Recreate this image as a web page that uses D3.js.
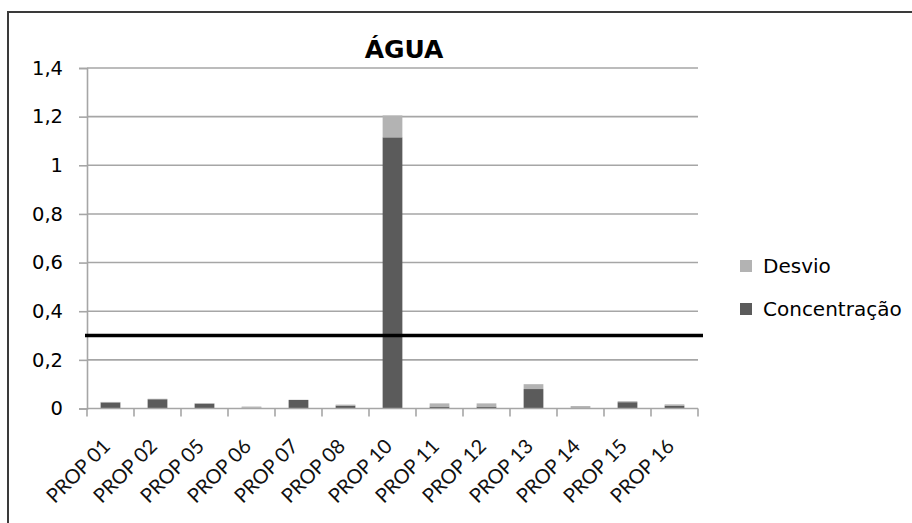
<!DOCTYPE html>
<html>
<head>
<meta charset="utf-8">
<script src="https://cdn.jsdelivr.net/npm/d3@7"></script>
<style>
  html, body { margin: 0; padding: 0; background: #fff; }
  svg { display: block; }
</style>
</head>
<body>
<svg id="chart" width="912" height="523"></svg>
<script>
// Water sample results per property: measured concentration plus its deviation stacked on top
const categories = ["PROP 01", "PROP 02", "PROP 05", "PROP 06", "PROP 07", "PROP 08", "PROP 10",
                    "PROP 11", "PROP 12", "PROP 13", "PROP 14", "PROP 15", "PROP 16"];
const concentracao = [0.025, 0.038, 0.02, 0.003, 0.035, 0.012, 1.115, 0.008, 0.008, 0.08, 0.002, 0.026, 0.012];
const desvio       = [0.002, 0.002, 0.002, 0.005, 0.001, 0.004, 0.09, 0.013, 0.013, 0.02, 0.008, 0.004, 0.005];
const yTicks = [0, 0.2, 0.4, 0.6, 0.8, 1, 1.2, 1.4];
const limite = 0.3;
const seriesNames = ["Desvio", "Concentração"];

const colors = { "Concentração": "#5b5b5b", "Desvio": "#b3b3b3" };
const svg = d3.select("#chart");

// outer frame
svg.append("rect").attr("x", 8).attr("y", 12).attr("width", 920).attr("height", 530)
  .attr("fill", "#fff").attr("stroke", "#3a3a3a").attr("stroke-width", 2);

const plot = { left: 87, right: 698, top: 68, bottom: 408.5 };

const x = d3.scaleBand().domain(categories).range([plot.left, plot.right]).paddingInner(0.58).paddingOuter(0.29);
const xTick = d3.scaleBand().domain(categories).range([plot.left, plot.right]);
const y = d3.scaleLinear().domain([0, 1.4]).range([plot.bottom, plot.top]);

const textFont = "'DejaVu Sans', Verdana, sans-serif";

// horizontal gridlines
svg.append("g").selectAll("line").data(yTicks.filter(d => d > 0)).join("line")
  .attr("x1", plot.left).attr("x2", plot.right)
  .attr("y1", d => y(d)).attr("y2", d => y(d))
  .attr("stroke", "#a6a6a6").attr("stroke-width", 1.6);

// stacked bars
const rows = categories.map((c, i) => ({ cat: c, "Concentração": concentracao[i], "Desvio": desvio[i] }));
const stack = d3.stack().keys(["Concentração", "Desvio"])(rows);
svg.append("g").selectAll("g").data(stack).join("g")
  .attr("fill", d => colors[d.key])
  .selectAll("rect").data(d => d).join("rect")
  .attr("x", d => x(d.data.cat))
  .attr("width", x.bandwidth())
  .attr("y", d => y(d[1]))
  .attr("height", d => Math.max(0, y(d[0]) - y(d[1])));

// y axis
const yAxis = svg.append("g").attr("transform", `translate(${plot.left},0)`)
  .call(d3.axisLeft(y).tickValues(yTicks).tickSize(8).tickPadding(16)
    .tickFormat(d => String(d).replace(".", ",")));
yAxis.select(".domain").attr("stroke", "#a6a6a6").attr("stroke-width", 1.6);
yAxis.selectAll(".tick line").attr("stroke", "#a6a6a6").attr("stroke-width", 1.6);
yAxis.selectAll(".tick text").attr("font-family", textFont).attr("font-size", 19.5).attr("fill", "#000");

// x axis with ticks on band boundaries
const xAxisG = svg.append("g").attr("transform", `translate(0,${plot.bottom})`);
xAxisG.append("line").attr("x1", plot.left).attr("x2", plot.right).attr("y1", 0).attr("y2", 0)
  .attr("stroke", "#a6a6a6").attr("stroke-width", 1.6);
const bounds = categories.map(c => xTick(c)).concat([plot.right]);
xAxisG.selectAll("line.tk").data(bounds).join("line").attr("class", "tk")
  .attr("x1", d => d).attr("x2", d => d).attr("y1", 0).attr("y2", 8)
  .attr("stroke", "#a6a6a6").attr("stroke-width", 1.6);
xAxisG.selectAll("text").data(categories).join("text")
  .attr("transform", d => `translate(${x(d) + x.bandwidth() / 2 + 1},${39}) rotate(-45)`)
  .attr("text-anchor", "end")
  .attr("font-family", "Lato, 'Open Sans', sans-serif")
  .attr("font-size", 20).attr("fill", "#111")
  .text(d => d);

// reference limit line
svg.append("line").attr("x1", plot.left - 2).attr("x2", plot.right + 5)
  .attr("y1", y(limite)).attr("y2", y(limite))
  .attr("stroke", "#000").attr("stroke-width", 3.5);

// title
svg.append("text").attr("x", 404).attr("y", 58).attr("text-anchor", "middle")
  .attr("font-family", textFont).attr("font-weight", "bold").attr("font-size", 25)
  .attr("fill", "#000").text("ÁGUA");

// legend
const legend = svg.append("g").selectAll("g").data(seriesNames).join("g")
  .attr("transform", (d, i) => `translate(740,${260 + i * 43})`);
legend.append("rect").attr("width", 12).attr("height", 12).attr("fill", d => colors[d]);
legend.append("text").attr("x", 23).attr("y", 13)
  .attr("font-family", textFont).attr("font-size", 20).attr("fill", "#000")
  .text(d => d);
</script>
</body>
</html>
